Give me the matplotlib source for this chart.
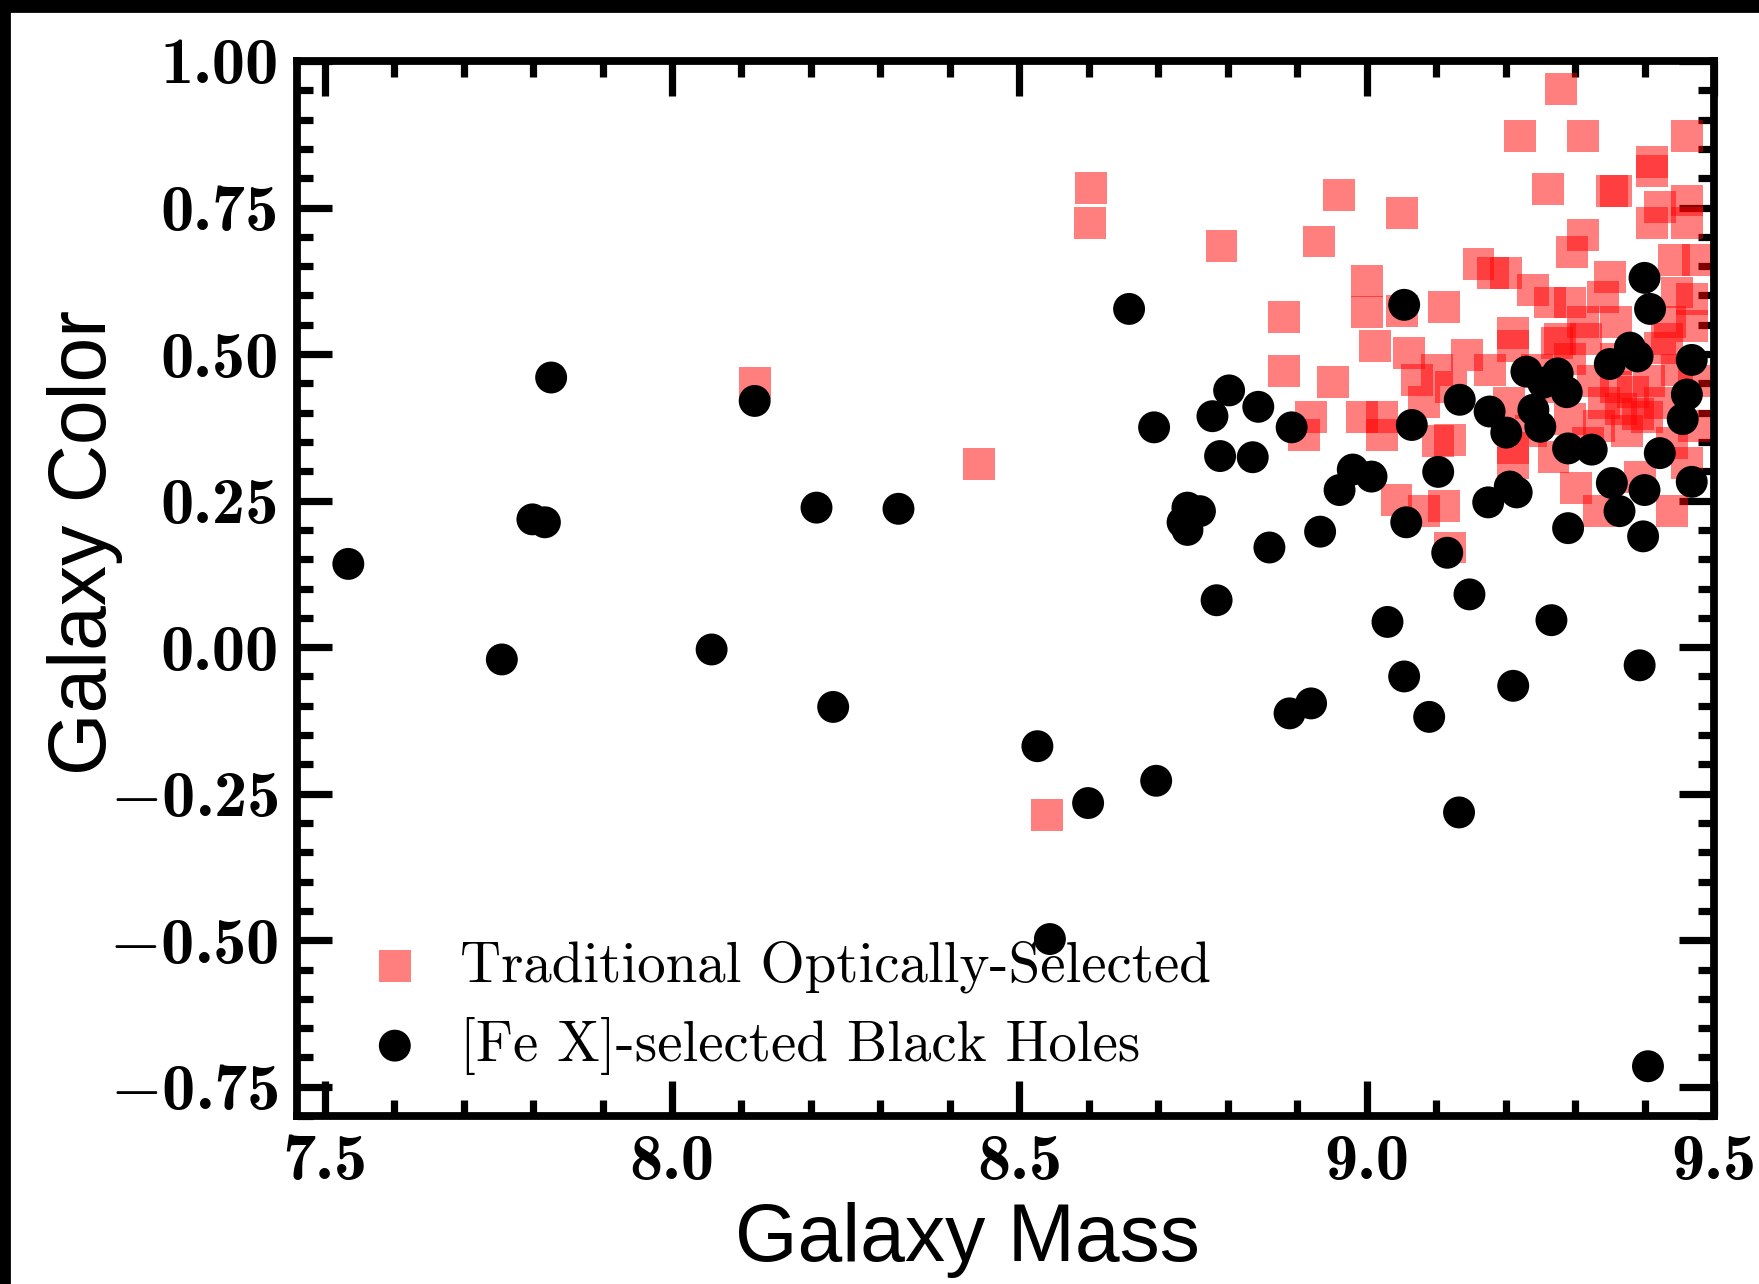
import numpy as np
import matplotlib
matplotlib.use("Agg")
import matplotlib.pyplot as plt
from matplotlib.ticker import MultipleLocator, FuncFormatter
from matplotlib.patches import Rectangle

plt.rcParams['mathtext.fontset'] = 'cm'

# traditional optically-selected (red squares)
opt_mass = [8.603, 8.602, 8.120, 8.442, 8.540, 8.791, 8.881, 8.881, 8.920, 8.910,
            8.951, 8.931, 8.960, 9.001, 9.001, 9.012, 8.993, 9.022, 9.022, 9.051,
            9.051, 9.111, 9.043, 9.082, 9.111, 9.120, 9.061, 9.145, 9.101, 9.177,
            9.072, 9.122, 9.082, 9.103, 9.120, 9.211, 9.211, 9.211, 9.161, 9.182,
            9.201, 9.221, 9.280, 9.311, 9.261, 9.311, 9.296, 9.353, 9.359, 9.411,
            9.411, 9.461, 9.461, 9.422, 9.411, 9.461, 9.442, 9.477, 9.350, 9.240,
            9.264, 9.293, 9.340, 9.447, 9.469, 9.311, 9.211, 9.279, 9.359, 9.437,
            9.469, 9.274, 9.316, 9.432, 9.293, 9.403, 9.269, 9.301, 9.335, 9.393,
            9.440, 9.461, 9.326, 9.359, 9.383, 9.406, 9.342, 9.366, 9.390, 9.334,
            9.375, 9.422, 9.447, 9.471, 9.359, 9.422, 9.293, 9.245, 9.205, 9.237,
            9.319, 9.439, 9.471, 9.264]
opt_color = [0.784, 0.724, 0.450, 0.312, -0.287, 0.684, 0.563, 0.471, 0.393, 0.362,
             0.452, 0.692, 0.772, 0.625, 0.571, 0.513, 0.393, 0.393, 0.362, 0.741,
             0.573, 0.580, 0.251, 0.232, 0.241, 0.170, 0.502, 0.498, 0.473, 0.473,
             0.456, 0.444, 0.418, 0.351, 0.354, 0.314, 0.339, 0.513, 0.653, 0.638,
             0.638, 0.872, 0.952, 0.872, 0.782, 0.703, 0.674, 0.778, 0.778, 0.828,
             0.812, 0.872, 0.762, 0.751, 0.724, 0.724, 0.661, 0.661, 0.632, 0.609,
             0.588, 0.588, 0.598, 0.605, 0.594, 0.554, 0.536, 0.525, 0.554, 0.554,
             0.548, 0.519, 0.525, 0.525, 0.389, 0.393, 0.324, 0.272, 0.232, 0.291,
             0.232, 0.314, 0.454, 0.444, 0.435, 0.454, 0.416, 0.406, 0.397, 0.377,
             0.368, 0.416, 0.473, 0.454, 0.492, 0.511, 0.492, 0.473, 0.416, 0.368,
             0.349, 0.349, 0.377, 0.444]

# [Fe X]-selected black holes (black circles)
fex_mass = [7.534, 7.755, 7.799, 7.817, 7.826, 8.057, 8.119, 8.208, 8.232, 8.326,
            8.526, 8.599, 8.544, 8.658, 8.694, 8.697, 8.742, 8.760, 8.735, 8.742,
            8.778, 8.784, 8.789, 8.802, 8.836, 8.844, 8.860, 8.892, 8.889, 8.920,
            8.933, 8.961, 8.980, 9.007, 9.030, 9.054, 9.054, 9.057, 9.065, 9.090,
            9.103, 9.116, 9.134, 9.133, 9.148, 9.175, 9.177, 9.201, 9.211, 9.206,
            9.216, 9.230, 9.240, 9.250, 9.254, 9.266, 9.275, 9.288, 9.290, 9.290,
            9.324, 9.350, 9.353, 9.364, 9.379, 9.390, 9.393, 9.398, 9.400, 9.400,
            9.408, 9.405, 9.422, 9.455, 9.461, 9.468, 9.468]
fex_color = [0.142, -0.021, 0.218, 0.213, 0.460, -0.004, 0.420, 0.238, -0.102, 0.236,
             -0.169, -0.266, -0.498, 0.577, 0.375, -0.228, 0.238, 0.232, 0.213, 0.200,
             0.394, 0.080, 0.326, 0.438, 0.324, 0.410, 0.170, 0.375, -0.113, -0.096,
             0.197, 0.268, 0.303, 0.291, 0.043, 0.584, -0.050, 0.213, 0.379, -0.119,
             0.299, 0.161, 0.422, -0.282, 0.090, 0.247, 0.402, 0.366, -0.066, 0.274,
             0.264, 0.470, 0.405, 0.376, 0.451, 0.046, 0.467, 0.435, 0.339, 0.203,
             0.337, 0.483, 0.280, 0.232, 0.511, 0.496, -0.031, 0.189, 0.268, 0.630,
             0.577, -0.715, 0.331, 0.389, 0.431, 0.490, 0.282]


def tick_fmt(digits):
    def f(v, pos):
        s = '%.*f' % (digits, abs(v))
        if v < -1e-9:
            s = '$-$' + s
        return s
    return FuncFormatter(f)


fig = plt.figure(figsize=(8.795, 6.42), dpi=200)
ax = fig.add_axes([0.1688, 0.1308, 0.8056, 0.8217])

ax.scatter(opt_mass, opt_color, s=132, marker='s', color='red', alpha=0.5,
           edgecolors='none', label='Traditional Optically-Selected', zorder=2)
ax.scatter(fex_mass, fex_color, s=132, marker='o', color='black',
           edgecolors='none', label='[Fe X]-selected Black Holes', zorder=3)

ax.set_xlim(7.46, 9.5)
ax.set_ylim(-0.8, 1.0)

ax.xaxis.set_major_locator(MultipleLocator(0.5))
ax.xaxis.set_minor_locator(MultipleLocator(0.1))
ax.yaxis.set_major_locator(MultipleLocator(0.25))
ax.yaxis.set_minor_locator(MultipleLocator(0.05))
ax.xaxis.set_major_formatter(tick_fmt(1))
ax.yaxis.set_major_formatter(tick_fmt(2))

for s in ax.spines.values():
    s.set_linewidth(2.8)
ax.tick_params(which='both', direction='in', top=True, right=True, width=2.6)
ax.tick_params(which='major', length=12.5, labelsize=24, pad=6.5)
ax.tick_params(which='minor', length=5.8)
for lab in ax.get_xticklabels() + ax.get_yticklabels():
    lab.set_family('cmb10')

ax.set_xlabel('Galaxy Mass', fontsize=29, family='Liberation Sans')
ax.set_ylabel('Galaxy Color', fontsize=29, family='Liberation Sans')
ax.xaxis.set_label_coords(0.473, -0.081)
ax.yaxis.set_label_coords(-0.123, 0.5435)

leg = ax.legend(loc='center left', bbox_to_anchor=(0.051, 0.103), frameon=False,
                prop={'family': 'cmr10', 'size': 20.5}, handlelength=0.9,
                handletextpad=0.7, labelspacing=0.42, borderpad=0, borderaxespad=0)

# black frame strips along top and left edge of the image
fig.patches.append(Rectangle((0, 1 - 11 / 1284), 1, 11 / 1284, transform=fig.transFigure,
                             color='black', zorder=10))
fig.patches.append(Rectangle((0, 0), 9 / 1759, 1, transform=fig.transFigure,
                             color='black', zorder=10))

fig.savefig('out.png', dpi=200)
